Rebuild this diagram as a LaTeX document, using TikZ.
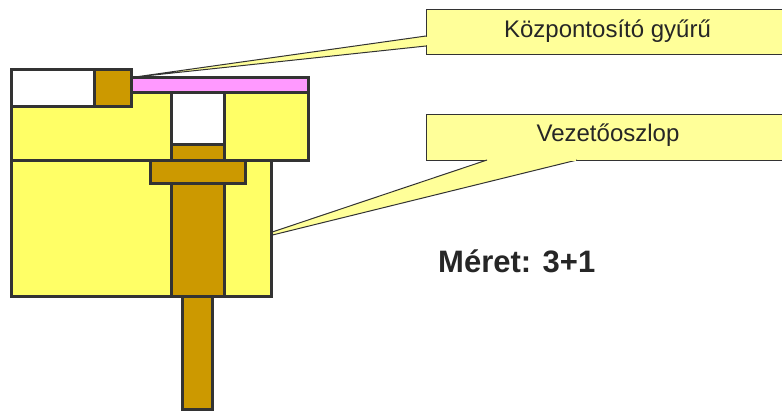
\documentclass[tikz,border=0pt]{standalone}
\usepackage{fontspec}
\setmainfont{Liberation Sans}
\definecolor{partyellow}{HTML}{FFFF66}
\definecolor{noteyellow}{HTML}{FFFF99}
\definecolor{partbrown}{HTML}{CC9900}
\definecolor{partpink}{HTML}{FF99FF}
\definecolor{edgegray}{HTML}{333333}
\tikzstyle{box}=[rectangle,fill=white,inner sep=0pt,line width=3pt,draw=edgegray,anchor=center]
\tikzstyle{note}=[rectangle,fill=noteyellow,inner sep=0pt,line width=1pt,draw=edgegray,anchor=center,text=black!85,font=\fontsize{24}{28}\selectfont]
\tikzstyle{tail}=[fill=noteyellow,line width=1pt,draw=edgegray,line join=miter]
\begin{document}
\begin{tikzpicture}[x=1pt,y=-1pt]
	\useasboundingbox (0,0) rectangle (782,410);

	% callouts go first, the parts cover their tips
	\fill[white] (0,0) rectangle (782,410);
	\node[note, minimum width=364pt, minimum height=45pt](ringnote) at (608,31.5){};
	\node[note, minimum width=364pt, minimum height=46pt](postnote) at (608,137){};
	\coordinate (ringtip) at (135,77);
	\coordinate (posttip) at (238,243.5);
	\draw[tail] (426,36) -- (ringtip) -- (426,46);
	\draw[tail] (487,160) -- (posttip) -- (577,160);
	\fill[noteyellow] (425,36.8) rectangle (427.5,45.2);
	\fill[noteyellow] (488,159) rectangle (576,161);
	\node[text=black!85, font=\fontsize{24}{28}\selectfont](ringtext) at (607.5,31){K\"ozpontos\'it\'o gy\H{u}r\H{u}};
	\node[text=black!85, font=\fontsize{24}{28}\selectfont](posttext) at (608,135){Vezet\H{o}oszlop};

	% tool body
	\node[box, minimum width=297pt, minimum height=68pt, fill=partyellow](upper) at (159.5,126){};
	\node[box, minimum width=260pt, minimum height=136pt, fill=partyellow](lower) at (141,228){};
	\node[box, minimum width=177pt, minimum height=15pt, fill=partpink](plate) at (219.5,84.5){};

	% white openings
	\node[box, minimum width=83pt, minimum height=37pt](slot) at (52.5,88){};
	\node[box, minimum width=53pt, minimum height=52pt](hole) at (197.5,118){};

	% guide post and ring
	\node[box, minimum width=37pt, minimum height=37pt, fill=partbrown](ring) at (112.5,88){};
	\node[box, minimum width=53pt, minimum height=16pt, fill=partbrown](postneck) at (197.5,152){};
	\node[box, minimum width=53pt, minimum height=113pt, fill=partbrown](post) at (197.5,239.5){};
	\node[box, minimum width=95pt, minimum height=23pt, fill=partbrown](flange) at (197.5,171.5){};
	\node[box, minimum width=30pt, minimum height=113pt, fill=partbrown](pin) at (197.5,352.5){};

	\node[anchor=base west, inner sep=0pt, text=black!85, font=\bfseries\fontsize{31}{36}\selectfont](size) at (438,272.5){M\'eret: 3+1};
\end{tikzpicture}
\end{document}
